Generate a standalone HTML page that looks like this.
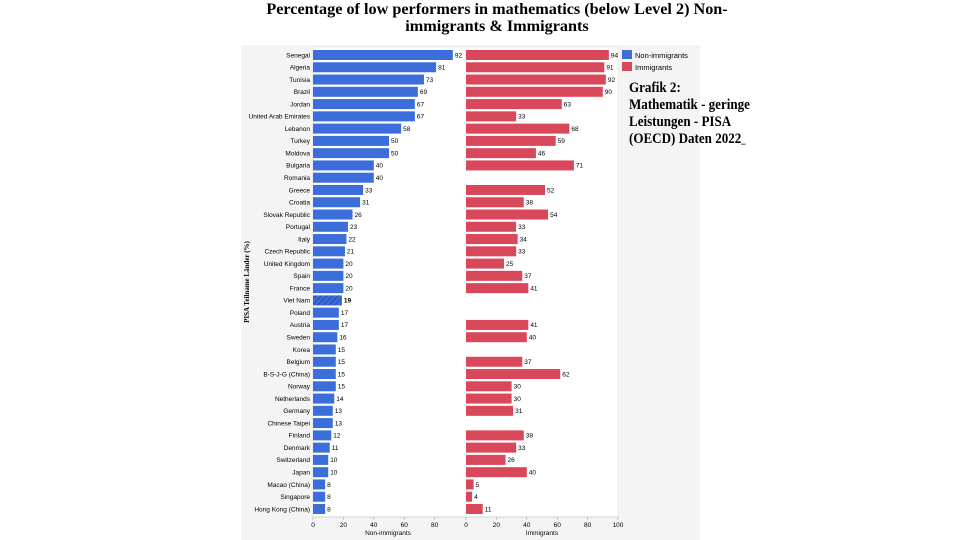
<!DOCTYPE html>
<html><head><meta charset="utf-8"><style>
html,body{margin:0;padding:0;background:#fff;}
svg{display:block;}
</style></head><body>
<svg id="s" width="960" height="540" xmlns="http://www.w3.org/2000/svg">
<defs><pattern id="h" width="4" height="4" patternUnits="userSpaceOnUse" patternTransform="rotate(45)"><rect width="4" height="4" fill="#3b6ddb"/><line x1="0" y1="0" x2="0" y2="4" stroke="#1e3f8f" stroke-width="1.5"/></pattern></defs>
<rect x="241" y="45" width="459" height="495" fill="#f4f4f4"/>
<rect x="313" y="47" width="305" height="470" fill="#fff" stroke="#ddd" stroke-width="0.5"/>
<text x="497" y="14" font-family="Liberation Serif,serif" font-weight="bold" font-size="16.2" text-anchor="middle">Percentage of low performers in mathematics (below Level 2) Non-</text>
<text x="497" y="31" font-family="Liberation Serif,serif" font-weight="bold" font-size="16.2" text-anchor="middle">immigrants &amp; Immigrants</text>
<rect x="622" y="50" width="10" height="9" fill="#3b6ddb"/>
<text x="635" y="58" font-family="Liberation Sans,sans-serif" font-size="7.5">Non-immigrants</text>
<rect x="622" y="62" width="10" height="9" fill="#d9485a"/>
<text x="635" y="70" font-family="Liberation Sans,sans-serif" font-size="7.5">Immigrants</text>
<g font-family="Liberation Serif,serif" font-weight="bold" font-size="15" transform="translate(629,0) scale(0.87,1)">
<text x="0" y="92">Grafik 2:</text>
<text x="0" y="109">Mathematik - geringe</text>
<text x="0" y="126">Leistungen - PISA</text>
<text x="0" y="143">(OECD) Daten 2022<tspan font-size="10">_</tspan></text>
</g>
<text transform="translate(249,282) rotate(-90)" font-family="Liberation Serif,serif" font-weight="bold" font-size="7" text-anchor="middle">PISA Teilname Länder (%)</text>
<g id="g" font-family="Liberation Sans,sans-serif" font-size="6.5"></g>
<line x1="313" y1="517" x2="618" y2="517" stroke="#bbb" stroke-width="0.5"/>
<text x="388" y="535" font-family="Liberation Sans,sans-serif" font-size="6.5" text-anchor="middle">Non-immigrants</text>
<text x="542" y="535" font-family="Liberation Sans,sans-serif" font-size="6.5" text-anchor="middle">Immigrants</text>
</svg>
<script>
var d=[["Senegal",92,94],["Algeria",81,91],["Tunisia",73,92],["Brazil",69,90],["Jordan",67,63],["United Arab Emirates",67,33],["Lebanon",58,68],["Turkey",50,59],["Moldova",50,46],["Bulgaria",40,71],["Romania",40,null],["Greece",33,52],["Croatia",31,38],["Slovak Republic",26,54],["Portugal",23,33],["Italy",22,34],["Czech Republic",21,33],["United Kingdom",20,25],["Spain",20,37],["France",20,41],["Viet Nam",19,null],["Poland",17,null],["Austria",17,41],["Sweden",16,40],["Korea",15,null],["Belgium",15,37],["B-S-J-G (China)",15,62],["Norway",15,30],["Netherlands",14,30],["Germany",13,31],["Chinese Taipei",13,null],["Finland",12,38],["Denmark",11,33],["Switzerland",10,26],["Japan",10,40],["Macao (China)",8,5],["Singapore",8,4],["Hong Kong (China)",8,11]];
var s="",k=1.52,L=313,R=466;
d.forEach(function(r,i){var y=55+i*12.27;
s+='<text x="310" y="'+(y+2.3)+'" text-anchor="end">'+r[0]+'</text>';
s+='<rect x="'+L+'" y="'+(y-5)+'" width="'+(r[1]*k)+'" height="10" fill="'+(r[0]=="Viet Nam"?"url(#h)":"#3b6ddb")+'"/>';
s+='<text x="'+(L+r[1]*k+2)+'" y="'+(y+2.3)+'"'+(r[0]=="Viet Nam"?' font-weight="bold"':'')+'>'+r[1]+'</text>';
if(r[2]!=null){s+='<rect x="'+R+'" y="'+(y-5)+'" width="'+(r[2]*k)+'" height="10" fill="#d9485a"/>';
s+='<text x="'+(R+r[2]*k+2)+'" y="'+(y+2.3)+'">'+r[2]+'</text>';}
});
[0,20,40,60,80].forEach(function(v){s+='<text x="'+(L+v*k)+'" y="527" text-anchor="middle">'+v+'</text><line x1="'+(L+v*k)+'" y1="517" x2="'+(L+v*k)+'" y2="520" stroke="#999" stroke-width="0.5"/>';});
[0,20,40,60,80,100].forEach(function(v){s+='<text x="'+(R+v*k)+'" y="527" text-anchor="middle">'+v+'</text><line x1="'+(R+v*k)+'" y1="517" x2="'+(R+v*k)+'" y2="520" stroke="#999" stroke-width="0.5"/>';});
document.getElementById("g").innerHTML=s;
</script>
</body></html>
